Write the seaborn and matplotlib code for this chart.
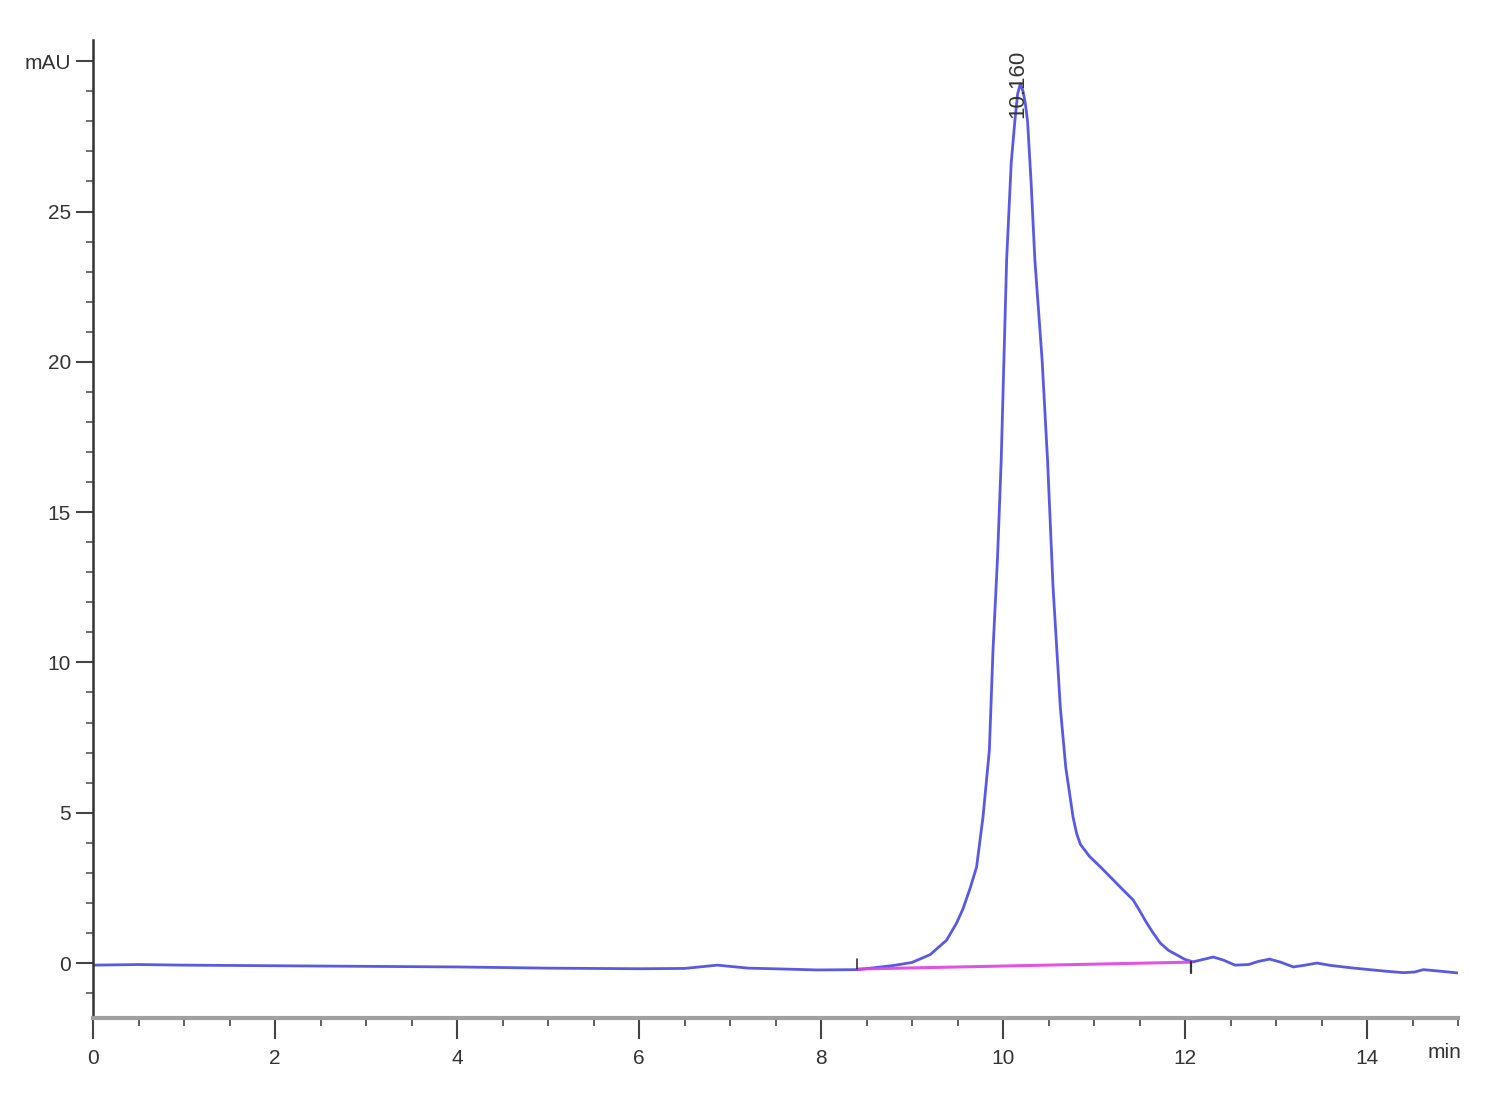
import matplotlib
matplotlib.use("Agg")
import matplotlib.pyplot as plt
import seaborn as sns
import pandas as pd
from matplotlib.ticker import MultipleLocator, FixedLocator

# ---- data ----
time_min = [0, 0.5, 1.0, 1.5, 2.0, 3.0, 4.0, 5.0, 6.0, 6.5, 6.86, 7.2, 7.6, 7.96,
            8.4, 8.6, 8.8, 9.0, 9.2, 9.38, 9.49, 9.56, 9.64, 9.71, 9.78, 9.85, 9.89,
            9.94, 9.98, 10.04, 10.09, 10.13, 10.16, 10.19, 10.22, 10.245, 10.27, 10.31,
            10.35, 10.43, 10.49, 10.55, 10.63, 10.69, 10.77, 10.81, 10.85, 10.95, 11.07,
            11.2, 11.32, 11.43, 11.5, 11.58, 11.65, 11.73, 11.82, 11.91, 12.0, 12.09,
            12.2, 12.31, 12.42, 12.55, 12.7, 12.8, 12.93, 13.05, 13.19, 13.32, 13.45,
            13.6, 13.8, 13.96, 14.2, 14.4, 14.52, 14.62, 14.8, 15.0]
signal_mau = [-0.07, -0.05, -0.07, -0.08, -0.09, -0.11, -0.13, -0.17, -0.19, -0.18,
              -0.07, -0.17, -0.2, -0.23, -0.22, -0.15, -0.08, 0.02, 0.28, 0.76, 1.33,
              1.8, 2.5, 3.2, 4.85, 7.08, 10.4, 13.5, 16.7, 23.4, 26.6, 28.0, 28.9,
              29.25, 29.0, 28.6, 28.0, 25.9, 23.4, 20.05, 16.7, 12.5, 8.5, 6.5, 4.85,
              4.3, 3.95, 3.55, 3.2, 2.8, 2.43, 2.1, 1.75, 1.33, 1.0, 0.66, 0.42, 0.27,
              0.12, 0.04, 0.12, 0.2, 0.1, -0.07, -0.05, 0.05, 0.13, 0.03, -0.13, -0.07,
              0.0, -0.08, -0.15, -0.2, -0.27, -0.32, -0.3, -0.22, -0.27, -0.33]

peak_label = "10.160"
peak_time = 10.16
peak_label_y = 28.1
integ_start = (8.4, -0.2)
integ_end = (12.07, 0.03)

x_major = [0, 2, 4, 6, 8, 10, 12, 14]
y_major = [0, 5, 10, 15, 20, 25, 30]
y_labels = ["0", "5", "10", "15", "20", "25", "mAU"]

df = pd.DataFrame({"time": time_min, "mAU": signal_mau})

sns.set_theme(style="white")
plt.rcParams["font.family"] = ["Liberation Sans", "DejaVu Sans"]

fig = plt.figure(figsize=(15, 11), dpi=100)
ax = fig.add_axes([0.062, 0.0745, 0.910, 0.889])

sns.lineplot(data=df, x="time", y="mAU", ax=ax, color="#3c3ce0", alpha=0.85,
             linewidth=2.0, sort=False, estimator=None)

# integration baseline
ax.plot([integ_start[0], integ_end[0]], [integ_start[1], integ_end[1]],
        color="#e040e0", linewidth=2.2, alpha=0.9, zorder=3)
ax.plot([integ_start[0], integ_start[0]], [integ_start[1], integ_start[1] + 0.35],
        color="#333333", linewidth=1.2, zorder=4)
ax.plot([integ_end[0], integ_end[0]], [integ_end[1], integ_end[1] - 0.35],
        color="#333333", linewidth=1.6, zorder=4)

ax.text(peak_time, peak_label_y, peak_label, rotation=90, ha="center", va="bottom",
        fontsize=16, color="#333333")

ax.set_xlim(0, 15)
ax.set_ylim(-1.83, 30.7)
ax.set_xlabel("")
ax.set_ylabel("")

ax.xaxis.set_major_locator(FixedLocator(x_major))
ax.xaxis.set_minor_locator(MultipleLocator(0.5))
ax.set_xticklabels([str(v) for v in x_major])
ax.yaxis.set_major_locator(FixedLocator(y_major))
ax.yaxis.set_minor_locator(MultipleLocator(1))
ax.set_yticklabels(y_labels)

ax.tick_params(axis="x", which="major", direction="out", length=15, width=1.5,
               color="#444444", labelsize=15, labelcolor="#333333", pad=7, bottom=True)
ax.tick_params(axis="x", which="minor", direction="out", length=6, width=1.2,
               color="#444444", bottom=True)
ax.tick_params(axis="y", which="major", direction="out", length=12, width=1.5,
               color="#444444", labelsize=15, labelcolor="#333333", pad=4, left=True)
ax.tick_params(axis="y", which="minor", direction="out", length=5, width=1.2,
               color="#555555", left=True)

for side in ["top", "right"]:
    ax.spines[side].set_visible(False)
ax.spines["left"].set_color("#333333")
ax.spines["left"].set_linewidth(1.8)
ax.spines["bottom"].set_color("#a0a0a0")
ax.spines["bottom"].set_linewidth(3)

fig.text(0.952, 0.043, "min", fontsize=15, color="#333333", ha="left", va="center")

fig.savefig("out.png", dpi=100, facecolor="white")
